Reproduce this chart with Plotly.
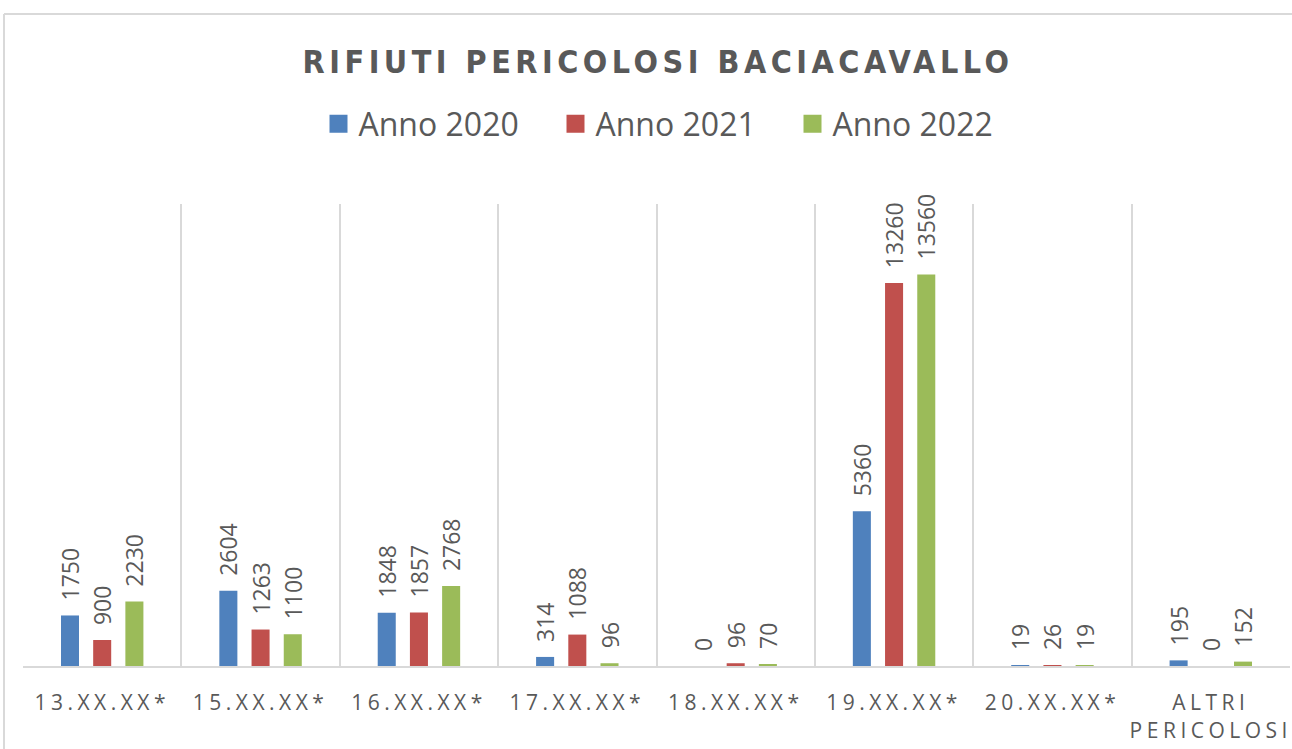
import plotly.graph_objects as go

categories = ["13.XX.XX*", "15.XX.XX*", "16.XX.XX*", "17.XX.XX*", "18.XX.XX*",
              "19.XX.XX*", "20.XX.XX*", "ALTRI<br>PERICOLOSI"]
series_names = ["Anno 2020", "Anno 2021", "Anno 2022"]
v2020 = [1750, 2604, 1848, 314, 0, 5360, 19, 195]
v2021 = [900, 1263, 1857, 1088, 96, 13260, 26, 0]
v2022 = [2230, 1100, 2768, 96, 70, 13560, 19, 152]
colors = ["#4F81BD", "#C0504D", "#9BBB59"]

TXT = "#595959"
FONT = "Open Sans, DejaVu Sans, sans-serif"

W, H = 1292, 749
L, R, T, B = 23, 2, 204, 83
PW, PH = W - L - R, H - T - B

fig = go.Figure()
for name, vals, col in zip(series_names, [v2020, v2021, v2022], colors):
    fig.add_trace(go.Bar(
        x=categories, y=vals, name=name, legendgroup=name, showlegend=False,
        marker=dict(color=col, line=dict(width=0)),
        text=[str(v) for v in vals],
        texttemplate="\u00a0\u00a0%{text}", textposition="outside", textangle=-90,
        constraintext="none", cliponaxis=False,
        outsidetextfont=dict(size=23, color=TXT, family=FONT),
    ))
# legend entries with larger square swatches
for name, col in zip(series_names, colors):
    fig.add_trace(go.Scatter(
        x=[None], y=[None], mode="markers", name=name, legendgroup=name,
        marker=dict(symbol="square", size=16, color=col, line=dict(width=2, color=col)),
        hoverinfo="skip",
    ))

fx = lambda px: (px - L) / PW
fy = lambda py: (H - B - py) / PH

fig.update_layout(
    width=W, height=H,
    paper_bgcolor="white", plot_bgcolor="white",
    margin=dict(l=L, r=R, t=T, b=B),
    barmode="group", bargap=0.39, bargroupgap=0.44,
    title=dict(text="<b>RIFIUTI PERICOLOSI BACIACAVALLO</b>", x=658 / W, xanchor="center",
               y=1 - 62 / H, yanchor="middle",
               font=dict(size=32, color=TXT, family="DejaVu Sans Condensed, DejaVu Sans, sans-serif")),
    legend=dict(orientation="h", x=fx(674), xanchor="center", y=fy(124), yanchor="middle",
                font=dict(size=32, color=TXT, family=FONT), itemwidth=30,
                entrywidth=192, entrywidthmode="pixels", traceorder="normal"),
    showlegend=True,
    xaxis=dict(type="category", tickson="boundaries", showgrid=True, gridcolor="#D9D9D9", gridwidth=1.5,
               showline=True, linecolor="#D9D9D9", linewidth=2, ticks="", ticklabelstandoff=17,
               tickfont=dict(size=21, color=TXT, family=FONT), range=[-0.5, 7.5]),
    yaxis=dict(range=[0, 16000], showgrid=False, showticklabels=False, zeroline=False, showline=False),
    shapes=[
        dict(type="line", xref="paper", yref="paper", x0=fx(4), x1=fx(W + 5),
             y0=fy(14), y1=fy(14), line=dict(color="#D9D9D9", width=2)),
        dict(type="line", xref="paper", yref="paper", x0=fx(4), x1=fx(4),
             y0=fy(H + 5), y1=fy(14), line=dict(color="#D9D9D9", width=2)),
    ],
)

css = ("body{margin:0 !important;} "
       ".gtitle{letter-spacing:4.5px;} "
       ".xtick text{letter-spacing:4.5px;}")
post = ("var s=document.createElement('style');s.innerHTML='" + css + "';"
        "document.head.appendChild(s);")

fig.write_html("out.html", post_script=post, config={"displayModeBar": False})
